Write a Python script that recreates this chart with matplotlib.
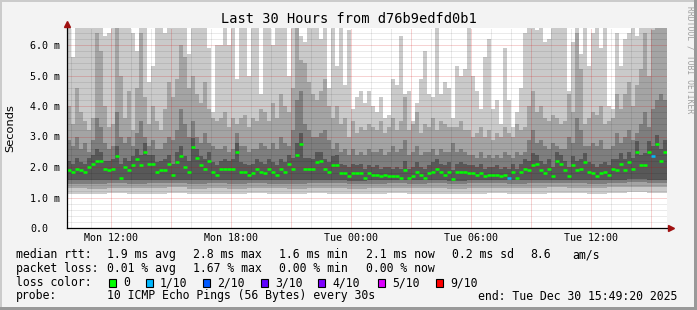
import numpy as np
import matplotlib
matplotlib.use("Agg")
import matplotlib.pyplot as plt
from matplotlib.patches import Rectangle

W, H = 697, 310
MONO = "DejaVu Sans Mono"

## Chart data
title = "Last 30 Hours from d76b9edfd0b1"
start_hour = 9 + 49 / 60 + 20 / 3600      # Mon 09:49:20, 30 hours shown
step = 0.2                                # hours per column (12 min)

tick_hours = [12, 18, 24, 30, 36]          # hours after Mon 00:00
tick_labels = ["Mon 12:00", "Mon 18:00", "Tue 00:00", "Tue 06:00", "Tue 12:00"]
y_ticks = [0, 1, 2, 3, 4, 5, 6]
y_labels = ["0.0", "1.0 m", "2.0 m", "3.0 m", "4.0 m", "5.0 m", "6.0 m"]

# median rtt per column, ms
median = [
    1.9, 1.85, 1.95, 1.9, 1.85, 2.0, 2.1, 2.2, 2.2, 1.95, 1.9, 1.95, 2.35, 1.65, 2.0, 1.9, 2.05, 2.25, 2.05, 2.5, 2.1, 2.1, 1.85, 1.9, 1.9,
    2.1, 1.75, 2.15, 2.35, 2.0, 1.85, 2.65, 2.3, 2.05, 1.95, 2.2, 1.85, 1.75, 1.95, 1.95, 1.95, 1.95, 2.5, 1.85, 1.85, 1.75, 1.8, 1.95, 1.85, 1.8,
    1.95, 1.85, 1.75, 1.95, 1.85, 2.1, 1.95, 2.4, 2.75, 1.95, 1.95, 1.95, 2.15, 2.2, 1.95, 1.85, 2.05, 2.05, 1.8, 1.8, 1.7, 1.8, 1.8, 1.8, 1.65,
    1.8, 1.75, 1.75, 1.7, 1.75, 1.7, 1.7, 1.7, 1.65, 1.9, 1.65, 1.7, 1.85, 1.75, 1.65, 1.8, 1.85, 1.95, 1.85, 1.75, 1.85, 1.6, 1.85, 1.85, 1.85,
    1.8, 1.8, 1.75, 1.8, 1.7, 1.75, 1.75, 1.75, 1.7, 1.75, 1.65, 1.85, 1.65, 1.85, 1.95, 1.9, 2.05, 2.1, 1.9, 1.8, 1.95, 1.7, 2.2, 2.1, 1.9,
    1.7, 2.05, 1.9, 1.95, 2.15, 1.85, 1.8, 1.7, 1.8, 1.85, 1.75, 1.95, 1.9, 2.1, 1.9, 2.15, 1.95, 2.5, 2.05, 2.05, 2.5, 2.35, 2.75, 2.2, 2.5,
]
# pings lost (of 10) where not zero
lost = {110: 1, 146: 1}

# sorted ping smoke, upper edges (ms)
ping_max = [
    7, 5.6, 7, 7, 7, 7, 7, 7, 7, 6.3, 6.4, 7, 7, 7, 7, 7, 6.4, 5.8, 7, 7, 4.8, 5.3, 7, 7, 6.4,
    7, 7, 7, 7, 7, 5.7, 7, 7, 7, 7, 5.9, 3.8, 6.0, 6.0, 7, 6.0, 7, 4.9, 7, 7, 5.0, 7, 7, 4.4, 7,
    7, 6.0, 7, 7, 7, 5.0, 7, 7, 6.3, 6.1, 7, 7, 7, 6.2, 7, 4.6, 7, 5.3, 7, 4.7, 6.5, 3.9, 4.3, 4.5, 4.1,
    4.5, 4.0, 3.8, 4.3, 3.6, 3.7, 4.9, 4.7, 6.3, 4.4, 4.5, 3.5, 4.1, 4.9, 5.8, 4.4, 4.3, 7, 4.4, 4.8, 4.6, 3.6, 5.3, 5.0, 5.2,
    7, 5.0, 4.5, 3.9, 5.6, 6.2, 3.9, 4.2, 3.4, 5.9, 4.2, 3.3, 3.8, 4.6, 6.4, 7, 7, 6.5, 6.6, 6.1, 6.2, 7, 7, 7, 7,
    4.5, 6.1, 7, 5.7, 7, 5.3, 6.4, 7, 5.9, 7, 4.0, 3.9, 6.4, 5.3, 6.2, 6.4, 7, 6.3, 7, 7, 7, 7, 7, 7, 7,
]
ping_9 = [
    4.0, 3.4, 4.6, 3.8, 3.5, 3.2, 3.6, 6.4, 5.8, 4.0, 3.3, 3.4, 6.6, 5.0, 3.6, 4.5, 3.2, 4.6, 6.4, 4.3, 3.4, 4.0, 3.5, 3.2, 3.9,
    4.8, 4.3, 4.9, 6.0, 5.6, 4.6, 5.0, 4.4, 4.1, 4.8, 3.9, 3.6, 3.5, 3.6, 3.8, 3.3, 3.6, 3.4, 3.6, 3.7, 3.3, 3.6, 3.5, 3.9, 3.8,
    3.5, 4.1, 3.6, 4.4, 4.0, 3.8, 4.6, 6.6, 5.5, 5.4, 4.8, 4.4, 4.2, 4.5, 4.9, 4.0, 3.6, 4.0, 3.4, 3.6, 3.0, 3.5, 3.1, 3.3, 3.2,
    3.4, 3.3, 3.2, 3.5, 3.1, 3.3, 3.6, 3.2, 3.5, 4.3, 3.2, 3.4, 3.8, 3.1, 3.4, 3.3, 3.6, 3.2, 3.5, 3.4, 3.3, 3.3, 3.3, 3.5, 3.2,
    3.2, 3.0, 3.1, 3.3, 3.0, 3.2, 2.9, 3.1, 3.0, 3.3, 3.1, 3.0, 3.4, 3.2, 3.3, 4.0, 4.5, 3.8, 4.0, 3.6, 3.5, 3.7, 3.6, 3.4, 3.5,
    4.4, 3.8, 6.4, 5.2, 3.4, 3.6, 3.8, 3.7, 4.0, 3.4, 3.5, 3.6, 4.4, 3.9, 4.4, 4.8, 4.0, 4.7, 5.2, 6.4, 5.0, 6.5, 6.6, 6.6, 6.6,
]
ping_8 = [
    2.9, 2.7, 3.0, 2.6, 2.8, 2.5, 2.9, 3.6, 3.3, 2.8, 2.6, 2.7, 3.8, 3.0, 2.8, 3.0, 2.7, 3.1, 3.5, 3.0, 2.7, 2.9, 2.6, 2.6, 2.8,
    3.0, 2.9, 3.2, 3.9, 3.4, 3.0, 3.5, 3.0, 2.8, 3.1, 2.8, 2.7, 2.6, 2.6, 2.7, 2.5, 2.6, 3.1, 2.7, 2.7, 2.5, 2.6, 2.6, 2.8, 2.7,
    2.6, 2.8, 2.6, 3.0, 2.8, 2.7, 3.2, 4.2, 4.5, 3.4, 3.2, 3.0, 3.0, 3.1, 3.2, 2.9, 2.6, 2.8, 2.5, 2.6, 2.4, 2.6, 2.4, 2.5, 2.4,
    2.6, 2.5, 2.5, 2.6, 2.4, 2.5, 2.7, 2.5, 2.6, 2.9, 2.4, 2.5, 2.7, 2.4, 2.5, 2.5, 2.6, 2.4, 2.6, 2.5, 2.5, 2.8, 2.5, 2.6, 2.5,
    2.4, 2.4, 2.3, 2.5, 2.3, 2.4, 2.3, 2.4, 2.3, 2.5, 2.4, 2.3, 2.5, 2.4, 2.5, 2.9, 3.2, 2.8, 2.9, 2.7, 2.6, 2.8, 2.7, 2.6, 2.6,
    3.0, 2.8, 3.6, 3.2, 2.7, 2.7, 2.8, 2.7, 2.9, 2.6, 2.6, 2.7, 3.1, 2.8, 3.0, 3.2, 2.9, 3.1, 3.4, 3.8, 3.3, 3.9, 4.2, 4.4, 4.2,
]
ping_7 = [
    2.2, 2.1, 2.3, 2.15, 2.1, 2.3, 2.4, 2.6, 2.5, 2.2, 2.2, 2.25, 2.7, 2.1, 2.3, 2.2, 2.35, 2.6, 2.4, 2.8, 2.4, 2.4, 2.15, 2.2, 2.25,
    2.4, 2.1, 2.5, 2.7, 2.35, 2.2, 2.95, 2.6, 2.35, 2.25, 2.5, 2.15, 2.05, 2.2, 2.25, 2.2, 2.25, 2.8, 2.15, 2.1, 2.05, 2.1, 2.25, 2.15, 2.1,
    2.25, 2.15, 2.05, 2.25, 2.15, 2.4, 2.3, 2.8, 3.1, 2.3, 2.3, 2.25, 2.5, 2.5, 2.25, 2.15, 2.35, 2.4, 2.1, 2.05, 2.0, 2.1, 2.05, 2.1, 1.95,
    2.05, 2.0, 2.05, 1.95, 2.0, 2.0, 1.95, 2.0, 1.95, 2.2, 1.95, 2.0, 2.15, 2.0, 1.95, 2.05, 2.15, 2.25, 2.1, 2.05, 2.15, 1.9, 2.1, 2.15, 2.1,
    2.05, 2.05, 2.0, 2.1, 1.95, 2.0, 2.0, 2.05, 1.95, 2.0, 1.95, 2.1, 1.95, 2.1, 2.25, 2.2, 2.45, 2.4, 2.2, 2.1, 2.25, 2.0, 2.5, 2.4, 2.2,
    2.0, 2.35, 2.2, 2.25, 2.45, 2.15, 2.1, 2.0, 2.1, 2.15, 2.05, 2.25, 2.25, 2.45, 2.25, 2.5, 2.3, 2.85, 2.4, 2.45, 2.85, 2.7, 3.05, 2.6, 2.9,
]
# lower edges, one value per hour
ping_min = [1.13, 1.12, 1.14, 1.13, 1.12, 1.15, 1.13, 1.12, 1.12, 1.14, 1.13, 1.12, 1.14, 1.13, 1.12, 1.13, 1.14, 1.12, 1.13, 1.12,
            1.13, 1.14, 1.12, 1.13, 1.16, 1.14, 1.13, 1.15, 1.17, 1.16]
ping_2 = [1.30, 1.29, 1.32, 1.30, 1.31, 1.33, 1.29, 1.31, 1.29, 1.32, 1.30, 1.29, 1.32, 1.31, 1.29, 1.30, 1.32, 1.30, 1.31, 1.29,
          1.31, 1.32, 1.30, 1.31, 1.34, 1.32, 1.30, 1.33, 1.35, 1.33]
ping_3 = [1.45, 1.44, 1.47, 1.45, 1.46, 1.48, 1.44, 1.46, 1.44, 1.47, 1.45, 1.44, 1.47, 1.46, 1.44, 1.45, 1.47, 1.45, 1.46, 1.44,
          1.46, 1.47, 1.45, 1.46, 1.49, 1.47, 1.45, 1.48, 1.50, 1.48]
ping_4 = [1.57, 1.56, 1.58, 1.57, 1.57, 1.59, 1.56, 1.57, 1.56, 1.58, 1.57, 1.56, 1.58, 1.57, 1.55, 1.56, 1.58, 1.56, 1.57, 1.55,
          1.57, 1.58, 1.56, 1.57, 1.59, 1.58, 1.56, 1.59, 1.60, 1.59]

loss_colors = {0: "#00ff00", 1: "#00b8ff", 2: "#0059ff", 3: "#5e00ff", 4: "#7e00ff", 5: "#dd00ff", 9: "#ff0000"}
loss_labels = ["0", "1/10", "2/10", "3/10", "4/10", "5/10", "9/10"]

stats_rtt = ["1.9 ms avg", "2.8 ms max", "1.6 ms min", "2.1 ms now", "0.2 ms sd", "8.6", "am/s"]
stats_loss = ["0.01 % avg", "1.67 % max", "0.00 % min", "0.00 % now"]
probe_text = "10 ICMP Echo Pings (56 Bytes) every 30s"
end_text = "end: Tue Dec 30 15:49:20 2025"

## Figure
fig = plt.figure(figsize=(W / 100, H / 100), dpi=100, facecolor="#f3f3f3")
ax = fig.add_axes([67 / W, 1 - 228 / H, 600 / W, 200 / H])
ax.set_facecolor("white")
for s in ax.spines.values():
    s.set_visible(False)

n = len(median)
x = np.arange(n) * step
per_hour = n // len(ping_min)
bands = [
    (np.repeat(ping_min, per_hour), ping_max, "#cacaca"),
    (np.repeat(ping_2, per_hour), ping_9, "#a4a4a4"),
    (np.repeat(ping_3, per_hour), ping_8, "#7e7e7e"),
    (np.repeat(ping_4, per_hour), ping_7, "#585858"),
]
for lo, hi, c in bands:
    ax.bar(x, np.array(hi) - lo, bottom=lo, width=step, align="edge",
           color=c, linewidth=0, antialiased=False, zorder=1)

ymax = 200 / 30.5
ax.set_xlim(0, 30)
ax.set_ylim(0, ymax)

# grid
for k in range(1, 33):
    v = k * 0.2
    if v >= ymax:
        break
    major = k % 5 == 0
    ax.axhline(v, color="#d00000" if major else "#000000", alpha=0.35 if major else 0.16,
               lw=0.72, ls=(0, (1, 1)), zorder=2)
first = 10 - start_hour
for k in range(30):
    hx = first + k
    major = (10 + k) % 3 == 0
    ax.axvline(hx, color="#d00000" if major else "#000000", alpha=0.35 if major else 0.16,
               lw=0.72, ls=(0, (1, 1)), zorder=2)

# median line coloured by loss
cols = [loss_colors[lost.get(i, 0)] for i in range(n)]
ax.hlines(median, x, x + step, colors=cols, lw=1.8, zorder=4)

# axes with arrows
ax.plot([0, 30.15], [0, 0], color="#000000", lw=0.9, clip_on=False, zorder=5)
ax.plot([0, 0], [0, 6.65], color="#000000", lw=0.9, clip_on=False, zorder=5)
ax.plot(30.2, 0, marker=">", ms=4, color="#a01010", clip_on=False, zorder=6)
ax.plot(0, 6.7, marker="^", ms=4, color="#a01010", clip_on=False, zorder=6)

ax.set_xticks([h - start_hour for h in tick_hours], tick_labels, family=MONO, fontsize=7.2)
ax.set_yticks(y_ticks, y_labels, family=MONO, fontsize=7.2)
ax.tick_params(axis="x", length=0, pad=3.5)
ax.tick_params(axis="y", length=0, pad=26.6)
for lab in ax.get_yticklabels():
    lab.set_horizontalalignment("left")

fig.text(10 / W, 1 - 128 / H, "Seconds", rotation=90, ha="center", va="center",
         family="DejaVu Sans", fontsize=8.2)
fig.text(348.5 / W, 1 - 19.3 / H, title, ha="center", va="center", family=MONO, fontsize=9.8)
fig.text(690 / W, 1 - 60 / H, "RRDTOOL / TOBI OETIKER", rotation=270, ha="center", va="center",
         family=MONO, fontsize=5.8, color="#a0a0a0")

## Legend lines
def ftext(px, py, s):
    fig.text(px / W, 1 - py / H, s, ha="left", va="center", family=MONO, fontsize=8.3)

col_x = [107, 193, 279, 366, 452, 530, 572]
ftext(16, 254.5, "median rtt:")
for px, s in zip(col_x, stats_rtt):
    ftext(px, 254.5, s)
ftext(16, 268.5, "packet loss:")
for px, s in zip(col_x, stats_loss):
    ftext(px, 268.5, s)
ftext(16, 282.5, "loss color:")
box_x = [109, 146, 203, 261, 318, 378, 436]
for bx, key, lab in zip(box_x, [0, 1, 2, 3, 4, 5, 9], loss_labels):
    fig.patches.append(Rectangle((bx / W, 1 - 286.5 / H), 7 / W, 8 / H, transform=fig.transFigure,
                                 facecolor=loss_colors[key], edgecolor="black", lw=0.8))
    ftext(bx + 14, 282.5, lab)
ftext(16, 296, "probe:")
ftext(107, 296, probe_text)
ftext(478, 296, end_text)

# 3d frame
for rx, ry, rw, rh, c in [(0, 0, W, 2, "#cbcbcb"), (0, 0, 2, H, "#cbcbcb"),
                          (W - 3, 0, 3, H, "#999999"), (0, H - 3, W, 3, "#999999")]:
    fig.patches.append(Rectangle((rx / W, 1 - (ry + rh) / H), rw / W, rh / H,
                                 transform=fig.transFigure, facecolor=c, edgecolor="none"))

fig.savefig("out.png", dpi=100, facecolor=fig.get_facecolor())
